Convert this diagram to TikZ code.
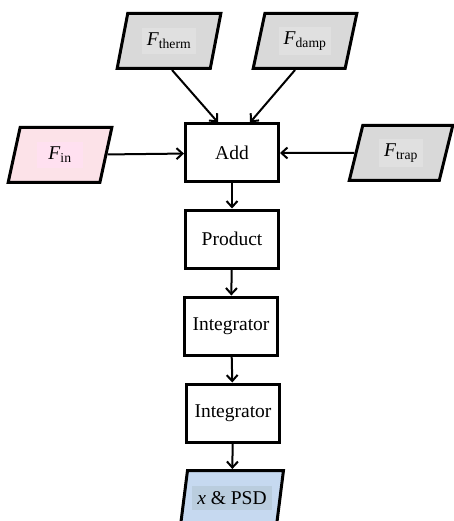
\documentclass[tikz,border=0pt]{standalone}
\usepackage{fontspec}
\setmainfont{Liberation Serif}
\usetikzlibrary{shapes.geometric,arrows.meta}

\definecolor{greyfill}{RGB}{217,217,217}
\definecolor{greytext}{RGB}{224,224,224}
\definecolor{pinkfill}{RGB}{252,226,232}
\definecolor{pinktext}{RGB}{255,224,240}
\definecolor{bluefill}{RGB}{198,217,240}
\definecolor{bluetext}{RGB}{186,205,222}

\tikzset{
    block/.style={draw, line width=3pt, fill=white, minimum width=93pt, minimum height=58pt},
    signal/.style={draw, line width=3pt, trapezium, trapezium left angle=75, trapezium right angle=105,
        trapezium stretches=true, minimum width=104pt, minimum height=55pt, inner sep=0pt},
    flow/.style={line width=2pt, -{Straight Barb[length=6pt,width=11pt,line width=2pt]}}
}

\newcommand{\sig}[1]{\textit{F}\textsubscript{#1}}
\setlength{\fboxsep}{5pt}

\begin{document}
\begin{tikzpicture}[x=1pt, y=-1pt, font=\fontsize{19.5}{23}\selectfont]
    \useasboundingbox (0,0) rectangle (453,521);

    % Place the inputs
    \node[signal, fill=greyfill] (therm) at (169,41) {\colorbox{greytext}{\sig{therm}}};
    \node[signal, fill=greyfill] (damp) at (305,41) {\colorbox{greytext}{\sig{damp}}};
    \node[signal, fill=pinkfill] (fin) at (60,155) {\colorbox{pinktext}{\,\,\sig{in}\,\,}};
    \node[signal, fill=greyfill] (trap) at (401,153) {\colorbox{greytext}{\sig{trap}}};

    % Place the blocks
    \node[block] (add) at (232,153) {Add};
    \node[block] (prod) at (232,239) {Product};
    \node[block] (int1) at (231,326) {Integrator};
    \node[block] (int2) at (233,413) {Integrator};

    % Place the output
    \node[signal, fill=bluefill] (out) at (232,498) {\colorbox{bluetext}{\textit{x} \& PSD}};

    % Draw the connections
    \draw[flow] ([xshift=3pt]therm.south) -- ([xshift=-14pt]add.north);
    \draw[flow] ([xshift=-10pt]damp.south) -- ([xshift=18pt]add.north);
    \draw[flow] (fin) -- (add);
    \draw[flow] (trap) -- (add);
    \draw[flow] (add) -- (prod);
    \draw[flow] (prod) -- (int1);
    \draw[flow] (int1) -- (int2);
    \draw[flow] (int2) -- (out);

\end{tikzpicture}
\end{document}
